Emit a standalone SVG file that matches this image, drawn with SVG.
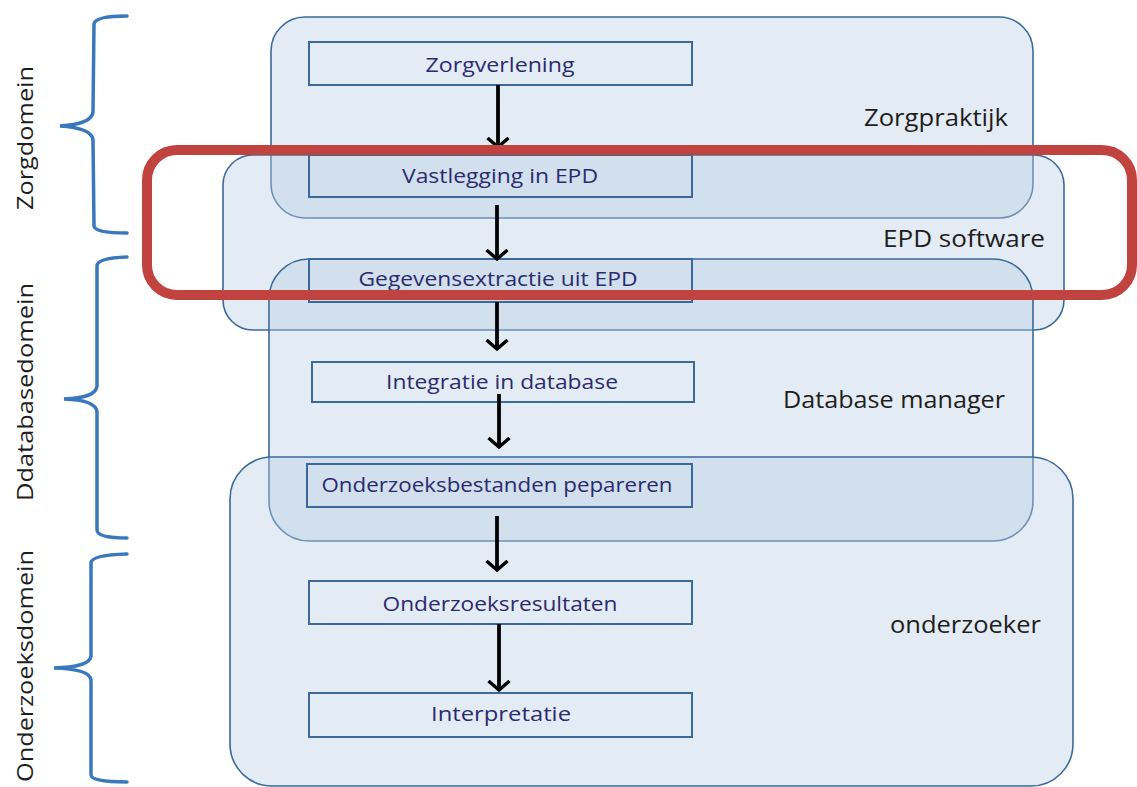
<svg xmlns="http://www.w3.org/2000/svg" width="1137" height="787" viewBox="0 0 1137 787">
<style>
.cont{fill:#b8cce4;fill-opacity:0.4;stroke:#3b6a9a;stroke-width:1.6}
.box{fill:none;stroke:#3b6a9a;stroke-width:2}
.bt{font-family:"Open Sans","Liberation Sans",sans-serif;font-size:20px;fill:#2b2b6e;text-anchor:middle}
.rl{font-family:"Open Sans","Liberation Sans",sans-serif;font-size:23px;fill:#1e1e1e}
.vl{font-family:"Open Sans","Liberation Sans",sans-serif;font-size:21px;fill:#1e1e1e;text-anchor:middle}
.brace{fill:none;stroke:#3a78bd;stroke-width:3.5;stroke-linecap:round}
.arr{stroke:#000;stroke-width:3.8;fill:none}
</style>
<defs>
<marker id="ah" markerWidth="12" markerHeight="24" refX="10" refY="12" orient="auto" markerUnits="userSpaceOnUse" viewBox="0 0 12 24">
<path d="M1,1.5 L10,12 L1,22.5" fill="none" stroke="#000" stroke-width="3.4"/>
</marker>
</defs>
<g id="containers">
<g id="zorgpraktijk"><rect class="cont" x="271" y="17" width="762" height="201" rx="34"/><text class="rl" x="864" y="126" textLength="144" lengthAdjust="spacingAndGlyphs">Zorgpraktijk</text></g>
<g id="epd-software"><rect class="cont" x="223" y="155" width="841" height="175" rx="30"/><text class="rl" x="883" y="247" textLength="162" lengthAdjust="spacingAndGlyphs">EPD software</text></g>
<g id="database-manager"><rect class="cont" x="269" y="259" width="764" height="282" rx="40"/><text class="rl" x="783" y="408" textLength="222" lengthAdjust="spacingAndGlyphs">Database manager</text></g>
<g id="onderzoeker"><rect class="cont" x="230" y="457" width="843" height="329" rx="42"/><text class="rl" x="890" y="633" textLength="151" lengthAdjust="spacingAndGlyphs">onderzoeker</text></g>
</g>
<g id="n1"><rect class="box" x="309" y="42" width="383" height="43"/><text class="bt" x="500" y="72" textLength="149" lengthAdjust="spacingAndGlyphs">Zorgverlening</text></g>
<g id="n2"><rect class="box" x="309" y="155" width="383" height="42"/><text class="bt" x="500" y="183" textLength="196" lengthAdjust="spacingAndGlyphs">Vastlegging in EPD</text></g>
<g id="n3"><rect class="box" x="309" y="259" width="383" height="43"/><text class="bt" x="498" y="286" textLength="279" lengthAdjust="spacingAndGlyphs">Gegevensextractie uit EPD</text></g>
<g id="n4"><rect class="box" x="312" y="362" width="382" height="40"/><text class="bt" x="502" y="389" textLength="232" lengthAdjust="spacingAndGlyphs">Integratie in database</text></g>
<g id="n5"><rect class="box" x="307" y="464" width="385" height="43"/><text class="bt" x="497" y="492" textLength="351" lengthAdjust="spacingAndGlyphs">Onderzoeksbestanden pepareren</text></g>
<g id="n6"><rect class="box" x="309" y="581" width="383" height="43"/><text class="bt" x="500" y="611" textLength="235" lengthAdjust="spacingAndGlyphs">Onderzoeksresultaten</text></g>
<g id="n7"><rect class="box" x="309" y="693" width="383" height="44"/><text class="bt" x="501" y="721" textLength="140" lengthAdjust="spacingAndGlyphs">Interpretatie</text></g>
<g id="connectors">
<line class="arr" x1="498" y1="85" x2="498" y2="147" marker-end="url(#ah)"/>
<line class="arr" x1="497" y1="205" x2="497" y2="259" marker-end="url(#ah)"/>
<line class="arr" x1="497" y1="302" x2="497" y2="349" marker-end="url(#ah)"/>
<line class="arr" x1="499" y1="394" x2="499" y2="447" marker-end="url(#ah)"/>
<line class="arr" x1="497" y1="516" x2="497" y2="570" marker-end="url(#ah)"/>
<line class="arr" x1="499" y1="624" x2="499" y2="690" marker-end="url(#ah)"/>
</g>
<g id="braces">
<path class="brace" d="M127,16 Q95,16 94,24 L93,112 Q92,124 60,126 Q92,128 93,140 L94,226 Q95,233 127,233"/>
<path class="brace" d="M127,257 Q97,258 97,266 L97,386 Q96,398 64,399 Q96,400 97,412 L97,530 Q97,538 127,538"/>
<path class="brace" d="M127,554 Q91,555 91,563 L91,656 Q90,667 54,668 Q90,669 91,680 L91,775 Q91,782 127,782"/>
</g>
<g id="side-labels">
<text class="vl" transform="translate(33,138) rotate(-90)" textLength="144" lengthAdjust="spacingAndGlyphs">Zorgdomein</text>
<text class="vl" transform="translate(33,392) rotate(-90)" textLength="218" lengthAdjust="spacingAndGlyphs">Ddatabasedomein</text>
<text class="vl" transform="translate(33,666) rotate(-90)" textLength="232" lengthAdjust="spacingAndGlyphs">Onderzoeksdomein</text>
</g>
<rect id="highlight" x="147" y="150" width="985" height="145" rx="30" fill="none" stroke="#c0433f" stroke-width="10"/>
</svg>
